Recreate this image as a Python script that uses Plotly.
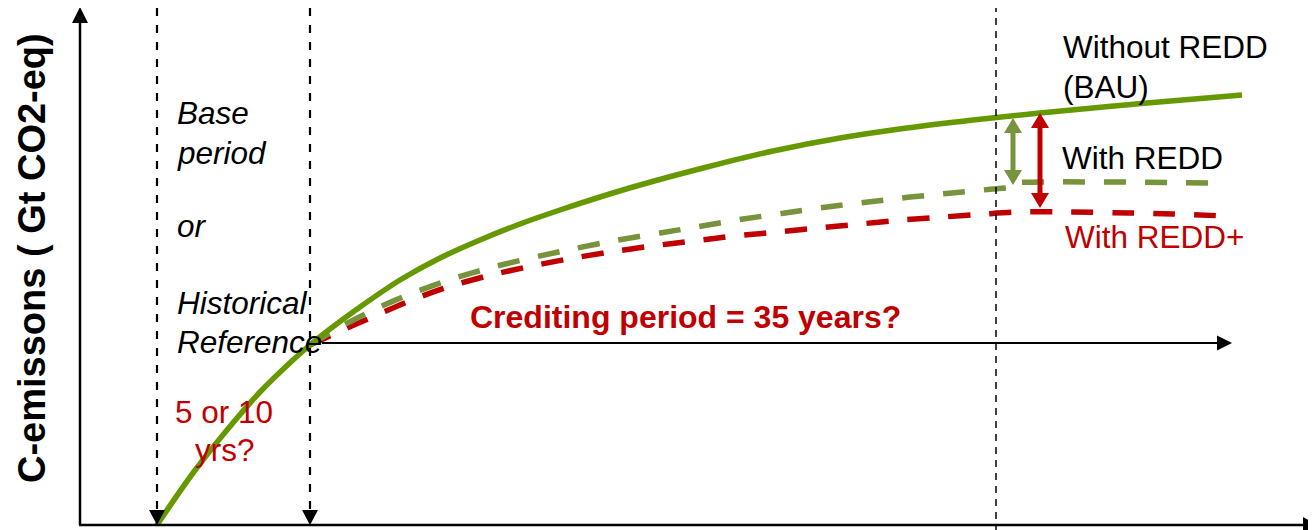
import plotly.graph_objects as go

# ---------------- data (time units, emission units) ----------------
bau_t = [157, 193, 227, 260, 293, 310, 330, 360, 400, 440, 480, 520, 560, 600, 640,
         707, 773, 840, 907, 973, 1040, 1147, 1242]
bau_e = [0, 52, 95, 133, 165, 180, 196, 218, 245, 267, 285, 301, 315, 328, 340,
         358, 374, 387, 397, 405, 412, 422, 430]

redd_t = [310, 340, 377, 415, 455, 493, 535, 577, 618, 660, 702, 743, 785, 827, 868,
          910, 952, 993, 1013, 1015, 1213]
redd_e = [180, 198, 217, 233, 247, 258, 268, 277, 285, 292, 299, 306, 312, 318, 323,
          328, 332, 336, 338, 342, 342]

reddp_t = [310, 347, 368, 407, 445, 487, 527, 568, 610, 652, 693, 735, 777, 818, 860,
           902, 943, 985, 1020, 1070, 1130, 1173, 1225]
reddp_e = [180, 197, 206, 223, 237, 249, 258, 266, 273, 279, 284, 289, 293, 297, 301,
           305, 308, 311, 313, 313, 312, 311, 309]

base_start = 157
credit_start = 310
check_t = 996
credit_end = 1232
credit_level = 182
axis_t0, axis_e0 = 80, 0
axis_t_end, axis_e_top = 1318, 518

green_arrow = dict(t=1013, top=407, bottom=340)
red_arrow = dict(t=1040, top=412, bottom=317)

GREEN = "#669900"
OLIVE = "#77933C"
RED = "#C00000"
FONT = "Arial, Liberation Sans, sans-serif"

fig = go.Figure()

fig.add_trace(go.Scatter(x=reddp_t, y=reddp_e, mode="lines",
                         line=dict(color=RED, width=5.5, dash="22px,19px", shape="spline", smoothing=0.8),
                         hoverinfo="skip"))
fig.add_trace(go.Scatter(x=redd_t, y=redd_e, mode="lines",
                         line=dict(color=OLIVE, width=5.5, dash="22px,19px", shape="spline", smoothing=0.3),
                         hoverinfo="skip"))
fig.add_trace(go.Scatter(x=bau_t, y=bau_e, mode="lines",
                         line=dict(color=GREEN, width=5.5, shape="spline", smoothing=1.0),
                         hoverinfo="skip"))

shapes = []


def tri(p1, p2, p3, color="black"):
    return dict(type="path", xref="x", yref="y",
                path=f"M {p1[0]},{p1[1]} L {p2[0]},{p2[1]} L {p3[0]},{p3[1]} Z",
                fillcolor=color, line=dict(width=0))


def seg(x0, y0, x1, y1, color="black", width=2, dash="solid"):
    return dict(type="line", xref="x", yref="y", x0=x0, y0=y0, x1=x1, y1=y1,
                line=dict(color=color, width=width, dash=dash))


# axes
shapes.append(seg(axis_t0, axis_e0, axis_t0, axis_e_top - 16, width=2.5))
shapes.append(tri((axis_t0, axis_e_top), (axis_t0 - 8, axis_e_top - 16), (axis_t0 + 8, axis_e_top - 16)))
shapes.append(seg(axis_t0 - 1, axis_e0, axis_t_end - 15, axis_e0, width=2.5))
shapes.append(tri((axis_t_end, axis_e0), (axis_t_end - 15, axis_e0 + 8), (axis_t_end - 15, axis_e0 - 8)))

# period boundaries
for t in (base_start, credit_start):
    shapes.append(seg(t, 517, t, 15, width=2.2, dash="8px,9px"))
    shapes.append(tri((t, 0), (t - 8, 15), (t + 8, 15)))
shapes.append(seg(check_t, 520, check_t, -5, width=1.5, dash="7px,6px"))

# crediting period arrow
shapes.append(seg(credit_start + 12, credit_level, credit_end - 15, credit_level, width=2))
shapes.append(tri((credit_end, credit_level), (credit_end - 15, credit_level + 7.5),
                  (credit_end - 15, credit_level - 7.5)))

# double arrows
for a, col in ((green_arrow, OLIVE), (red_arrow, RED)):
    shapes.append(seg(a["t"], a["top"] - 14, a["t"], a["bottom"] + 14, color=col, width=5))
    shapes.append(tri((a["t"], a["top"]), (a["t"] - 9, a["top"] - 15), (a["t"] + 9, a["top"] - 15), col))
    shapes.append(tri((a["t"], a["bottom"]), (a["t"] - 9, a["bottom"] + 15), (a["t"] + 9, a["bottom"] + 15), col))

annotations = []


def txt(text, x, y, color="black", size=31.5, style="normal", weight="normal", xanchor="left", angle=0):
    return dict(text=text, x=x, y=y, xref="x", yref="y", showarrow=False,
                xanchor=xanchor, yanchor="middle", textangle=angle,
                font=dict(family=FONT, size=size, color=color, style=style, weight=weight))


left_labels = [("Base", 412), ("period", 372), ("or", 299), ("Historical", 222), ("Reference", 183)]
for s, y in left_labels:
    annotations.append(txt(s, 175, y, style="italic"))
annotations.append(txt("5 or 10", 173, 113, color=RED))
annotations.append(txt("yrs?", 193, 75, color=RED))
annotations.append(txt("Without REDD", 1061, 478))
annotations.append(txt("(BAU)", 1061, 438))
annotations.append(txt("With REDD", 1060, 367))
annotations.append(txt("With REDD+", 1063, 288, color=RED))
annotations.append(txt("Crediting period = 35 years?", 468, 208, color=RED, size=32, weight="bold"))
annotations.append(txt("C-emissons ( Gt CO2-eq)", 32, 267, size=38, weight="bold",
                       xanchor="center", angle=-90))

# the page adds an 8px body margin, so the figure is sized/ranged to land on the same pixels
fig.update_layout(
    width=1308, height=522,
    margin=dict(l=0, r=0, t=0, b=0),
    paper_bgcolor="white", plot_bgcolor="white",
    showlegend=False,
    xaxis=dict(visible=False, range=[8, 1316], fixedrange=True),
    yaxis=dict(visible=False, range=[-5, 517], fixedrange=True),
    shapes=shapes,
    annotations=annotations,
)

fig.write_html("out.html")
